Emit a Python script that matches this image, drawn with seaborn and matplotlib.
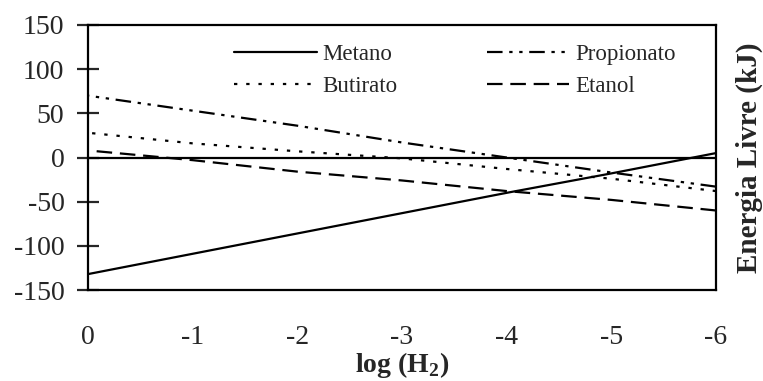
import matplotlib as mpl
mpl.use("Agg")
import matplotlib.pyplot as plt
import numpy as np
import pandas as pd
import seaborn as sns

log_h2 = [0, -1, -2, -3, -4, -5, -6]
metano = [-132, -109, -86, -63, -40, -18, 5]
propionato = [70, 53, 36, 17, 0, -17, -33]
butirato = [28, 16, 7, -1, -13, -24, -38]
etanol = [8, -3, -16, -26, -38, -48, -60]
x_ticks = [0, -1, -2, -3, -4, -5, -6]
y_ticks = [-150, -100, -50, 0, 50, 100, 150]

series = {"Metano": metano, "Butirato": butirato, "Propionato": propionato, "Etanol": etanol}
df = pd.concat(
    [pd.DataFrame({"log": log_h2, "energia": vals, "serie": name}) for name, vals in series.items()],
    ignore_index=True,
)


def main():
    sns.set_theme(style="white")
    plt.rcParams["font.family"] = ["Liberation Serif", "DejaVu Serif"]
    plt.rcParams["mathtext.fontset"] = "custom"
    plt.rcParams["mathtext.bf"] = "Liberation Serif:bold"
    plt.rcParams["mathtext.rm"] = "Liberation Serif"
    plt.rcParams["axes.unicode_minus"] = False

    fig = plt.figure(figsize=(7.63, 3.81), dpi=100)
    ax = fig.add_axes([88 / 763, 1 - 290 / 381, 628 / 763, 265 / 381])

    dashes = {
        "Metano": "",
        "Butirato": (1.5, 4),
        "Propionato": (7, 3, 1.5, 3, 1.5, 3),
        "Etanol": (7, 3.5),
    }
    palette = {k: "black" for k in series}
    sns.lineplot(data=df, x="log", y="energia", hue="serie", style="serie",
                 dashes=dashes, palette=palette, linewidth=1.6, ax=ax)

    ax.axhline(0, color="black", linewidth=1.6, zorder=1)

    ax.set_xlim(0, -6)
    ax.set_ylim(-150, 150)
    ax.set_xticks(x_ticks)
    ax.set_yticks(y_ticks)
    ax.set_xticklabels([str(t) for t in x_ticks])
    ax.tick_params(axis="x", length=0, pad=25, labelsize=20)
    ax.tick_params(axis="y", direction="inout", length=16, width=1.6, pad=9, labelsize=20, left=True)
    for s in ax.spines.values():
        s.set_color("black")
        s.set_linewidth(1.6)

    ax.set_xlabel(r"log (H$_\mathbf{2}$)", fontsize=20, fontweight="bold")
    ax.xaxis.set_label_coords(0.5, -0.228)
    ax.set_ylabel("Energia Livre (kJ)", fontsize=21, fontweight="bold")
    ax.yaxis.set_label_position("right")
    ax.yaxis.set_label_coords(1.031, 0.5)

    handles, labels = ax.get_legend_handles_labels()
    order = ["Metano", "Butirato", "Propionato", "Etanol"]
    hmap = dict(zip(labels, handles))
    ax.legend([hmap[k] for k in order], order, ncol=2, frameon=False,
              loc="upper left", bbox_to_anchor=(0.2, 1.005), fontsize=16.5,
              handlelength=3.6, handletextpad=0.25, columnspacing=3.9, labelspacing=0.45)

    fig.savefig("out.png", dpi=100)
    plt.close(fig)


if __name__ == "__main__":
    main()
